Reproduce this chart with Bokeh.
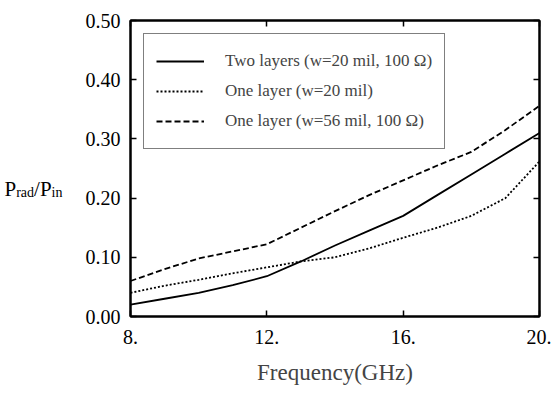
from bokeh.plotting import figure
from bokeh.layouts import row
from bokeh.models import Range1d, LinearAxis, FixedTicker, Legend, LegendItem, CustomJSTickFormatter
from bokeh.core.properties import value
from bokeh.embed import file_html
from bokeh.resources import INLINE

# ---- data ----
freq = [8, 9, 10, 11, 12, 13, 14, 15, 16, 17, 18, 19, 20]
two_layers = [0.020, 0.030, 0.040, 0.053, 0.068, 0.093, 0.120, 0.145, 0.170, 0.205, 0.240, 0.275, 0.310]
one_layer_20 = [0.040, 0.052, 0.062, 0.073, 0.083, 0.093, 0.100, 0.115, 0.133, 0.150, 0.170, 0.200, 0.262]
one_layer_56 = [0.060, 0.080, 0.098, 0.110, 0.122, 0.150, 0.178, 0.205, 0.230, 0.255, 0.278, 0.315, 0.356]

x_ticks = [8, 12, 16, 20]
x_tick_labels = ["8.", "12.", "16.", "20."]
y_ticks = [0.0, 0.1, 0.2, 0.3, 0.4, 0.5]
y_tick_labels = ["0.00", "0.10", "0.20", "0.30", "0.40", "0.50"]

series_names = ["Two layers (w=20 mil, 100 \u03a9)", "One layer (w=20 mil)", "One layer (w=56 mil, 100 \u03a9)"]
y_title_parts = ["P", "rad", "/P", "in"]

FONT = "Liberation Serif"
LAB_W = 75
TOP = 20
FRAME_W = 409
FRAME_H = 296
BOTTOM = 75

p = figure(frame_width=FRAME_W, frame_height=FRAME_H, output_backend="svg", toolbar_location=None,
           x_range=Range1d(8, 20), y_range=Range1d(0, 0.5),
           min_border_left=130 - LAB_W, min_border_right=12, min_border_top=TOP, min_border_bottom=BOTTOM)
p.background_fill_color = "white"
p.border_fill_color = "white"
p.outline_line_color = "black"
p.outline_line_width = 2
p.xgrid.visible = False
p.ygrid.visible = False

for ax in (p.xaxis[0], p.yaxis[0]):
    ax.axis_line_width = 2
    ax.major_tick_in = 6
    ax.major_tick_out = 0
    ax.minor_tick_line_color = None
    ax.major_tick_line_width = 1.5
    ax.major_label_text_font = FONT
    ax.major_label_text_font_size = "20px"
    ax.major_label_text_color = "black"

p.xaxis[0].ticker = FixedTicker(ticks=x_ticks)
p.xaxis[0].major_label_overrides = {t: l for t, l in zip(x_ticks, x_tick_labels)}
p.xaxis[0].major_label_standoff = 13
p.xaxis[0].axis_label = "Frequency(GHz)"
p.xaxis[0].axis_label_text_font = FONT
p.xaxis[0].axis_label_text_font_size = "23px"
p.xaxis[0].axis_label_text_font_style = "normal"
p.xaxis[0].axis_label_standoff = 13

p.yaxis[0].ticker = FixedTicker(ticks=y_ticks)
p.yaxis[0].major_label_overrides = {t: l for t, l in zip(y_ticks, y_tick_labels)}
p.yaxis[0].major_label_standoff = 10

# mirrored ticks (top / right), without labels
top = LinearAxis(ticker=FixedTicker(ticks=x_ticks), formatter=CustomJSTickFormatter(code="return ''"),
                 major_tick_in=6, major_tick_out=0, minor_tick_line_color=None,
                 axis_line_width=2, major_tick_line_width=1.5, major_label_standoff=0)
right = LinearAxis(ticker=FixedTicker(ticks=y_ticks), formatter=CustomJSTickFormatter(code="return ''"),
                   major_tick_in=6, major_tick_out=0, minor_tick_line_color=None,
                   axis_line_width=2, major_tick_line_width=1.5, major_label_standoff=0)
p.add_layout(top, "above")
p.add_layout(right, "right")

r1 = p.line(freq, two_layers, line_color="black", line_width=1.8)
r2 = p.line(freq, one_layer_20, line_color="black", line_width=1.8, line_dash="2 2")
r3 = p.line(freq, one_layer_56, line_color="black", line_width=1.8, line_dash="6 3")

legend = Legend(items=[LegendItem(label=series_names[0], renderers=[r1]),
                       LegendItem(label=series_names[1], renderers=[r2]),
                       LegendItem(label=series_names[2], renderers=[r3])],
                location="top_left", margin=13, padding=12, spacing=0,
                glyph_width=48, glyph_height=30, label_height=30, label_standoff=21,
                label_text_font=FONT, label_text_font_size="17px",
                border_line_color="black", border_line_width=1.5,
                background_fill_alpha=1.0)
p.add_layout(legend)

# ---- y axis title P_rad / P_in in a side figure whose frame matches the plot vertically ----
lab = figure(frame_width=LAB_W, frame_height=FRAME_H, output_backend="svg", toolbar_location=None,
             x_range=Range1d(0, LAB_W), y_range=Range1d(0, 0.5),
             x_axis_type=None, y_axis_type=None,
             min_border_left=0, min_border_right=0, min_border_top=TOP, min_border_bottom=BOTTOM)
lab.outline_line_color = None
lab.xgrid.visible = False
lab.ygrid.visible = False
lab.background_fill_color = "white"
lab.border_fill_color = "white"

px_to_y = 0.5 / FRAME_H
big, small = 21, 14
sizes = [big, small, big, small]
drops = [0, 4, 0, 4]                       # subscript drop in px
adv = [0.556 * big, 1.277 * small, 0.834 * big, 0.778 * small]
baseline_px = FRAME_H - (188 - TOP)        # px above frame bottom
xpos = 4.0
for txt, size, drop, a in zip(y_title_parts, sizes, drops, adv):
    lab.text(x=[xpos], y=[(baseline_px - drop) * px_to_y], text=[txt],
             text_font=value(FONT), text_font_size=value(f"{size}px"), text_align="left",
             text_baseline="alphabetic", text_color="black")
    xpos += a

layout = row(lab, p)
open("out.html", "w").write(file_html(layout, INLINE))
